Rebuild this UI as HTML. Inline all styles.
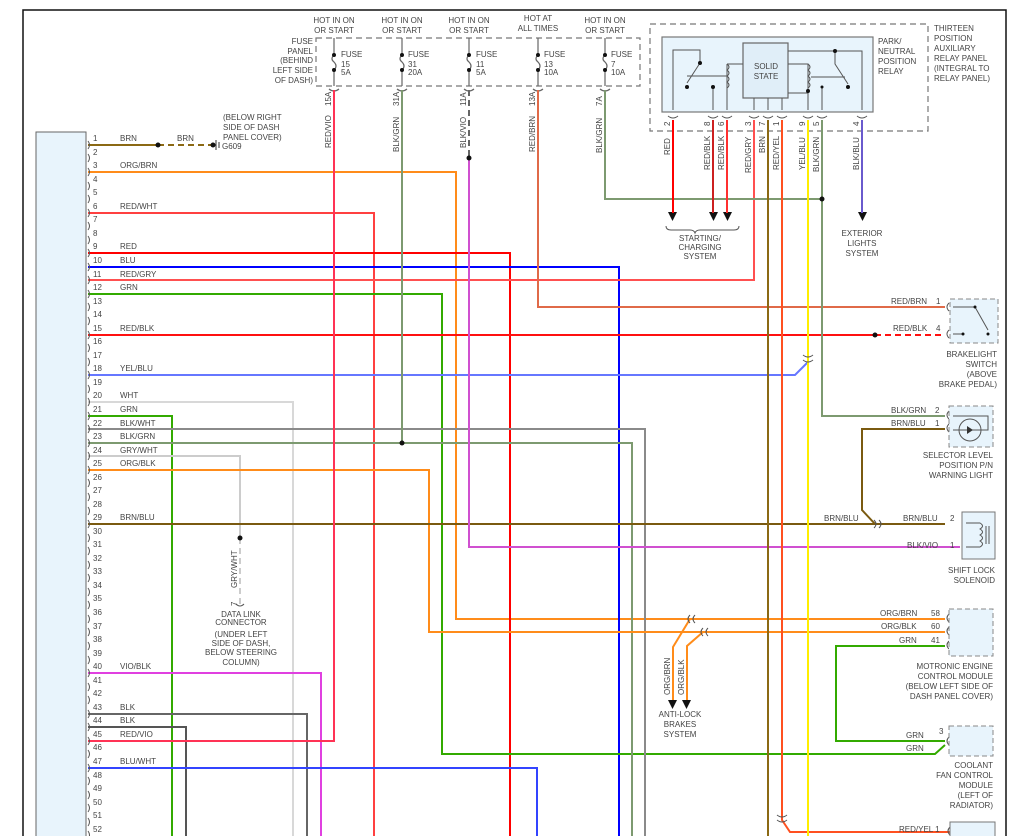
<!DOCTYPE html>
<html><head><meta charset="utf-8"><style>
body{margin:0;background:#fff;}
svg{display:block;font-family:"Liberation Sans",sans-serif;}
text{fill:#444;font-size:8px;}
.w{fill:none;stroke-width:2;}
</style></head><body>
<svg width="1016" height="836" viewBox="0 0 1016 836" xmlns="http://www.w3.org/2000/svg">
<!-- frame -->
<path d="M23,836 V10 H1006 V836" fill="none" stroke="#111" stroke-width="1.5"/>
<!-- left module -->
<rect x="36" y="132" width="50" height="710" fill="#e8f4fc" stroke="#666" stroke-width="1"/>

<!-- fuse panel -->
<rect x="316" y="38" width="324" height="48" fill="none" stroke="#777" stroke-dasharray="6,4" stroke-width="1.2"/>
<g font-size="8">
<text x="313" y="44" text-anchor="end">FUSE</text><text x="313" y="54" text-anchor="end">PANEL</text><text x="313" y="63" text-anchor="end">(BEHIND</text><text x="313" y="73" text-anchor="end">LEFT SIDE</text><text x="313" y="83" text-anchor="end">OF DASH)</text>
<text x="334" y="23" text-anchor="middle">HOT IN ON</text><text x="334" y="33" text-anchor="middle">OR START</text>
<text x="402" y="23" text-anchor="middle">HOT IN ON</text><text x="402" y="33" text-anchor="middle">OR START</text>
<text x="469" y="23" text-anchor="middle">HOT IN ON</text><text x="469" y="33" text-anchor="middle">OR START</text>
<text x="538" y="21" text-anchor="middle">HOT AT</text><text x="538" y="31" text-anchor="middle">ALL TIMES</text>
<text x="605" y="23" text-anchor="middle">HOT IN ON</text><text x="605" y="33" text-anchor="middle">OR START</text>
</g>
<g stroke="#666" stroke-width="1.2" fill="none">
<path d="M334,38V55 M334,70V86 M334,55 q-4,4 0,7 q4,4 0,8"/>
<path d="M402,38V55 M402,70V86 M402,55 q-4,4 0,7 q4,4 0,8"/>
<path d="M469,38V55 M469,70V86 M469,55 q-4,4 0,7 q4,4 0,8"/>
<path d="M538,38V55 M538,70V86 M538,55 q-4,4 0,7 q4,4 0,8"/>
<path d="M605,38V55 M605,70V86 M605,55 q-4,4 0,7 q4,4 0,8"/>
<path d="M329,89 q5,4 10,0 M397,89 q5,4 10,0 M464,89 q5,4 10,0 M533,89 q5,4 10,0 M600,89 q5,4 10,0"/>
</g>
<g fill="#111"><circle cx="334" cy="55" r="2"/><circle cx="334" cy="70" r="2"/><circle cx="402" cy="55" r="2"/><circle cx="402" cy="70" r="2"/><circle cx="469" cy="55" r="2"/><circle cx="469" cy="70" r="2"/><circle cx="538" cy="55" r="2"/><circle cx="538" cy="70" r="2"/><circle cx="605" cy="55" r="2"/><circle cx="605" cy="70" r="2"/></g>
<g font-size="8">
<text x="341" y="57">FUSE</text><text x="341" y="67">15</text><text x="341" y="75">5A</text>
<text x="408" y="57">FUSE</text><text x="408" y="67">31</text><text x="408" y="75">20A</text>
<text x="476" y="57">FUSE</text><text x="476" y="67">11</text><text x="476" y="75">5A</text>
<text x="544" y="57">FUSE</text><text x="544" y="67">13</text><text x="544" y="75">10A</text>
<text x="611" y="57">FUSE</text><text x="611" y="67">7</text><text x="611" y="75">10A</text>
</g>
<g font-size="8">
<text transform="translate(331,106) rotate(-90)">15A</text><text transform="translate(331,148) rotate(-90)">RED/VIO</text>
<text transform="translate(399,106) rotate(-90)">31A</text><text transform="translate(399,152) rotate(-90)">BLK/GRN</text>
<text transform="translate(466,106) rotate(-90)">11A</text><text transform="translate(466,148) rotate(-90)">BLK/VIO</text>
<text transform="translate(535,106) rotate(-90)">13A</text><text transform="translate(535,152) rotate(-90)">RED/BRN</text>
<text transform="translate(602,106) rotate(-90)">7A</text><text transform="translate(602,153) rotate(-90)">BLK/GRN</text>
</g>

<!-- relay -->
<rect x="650" y="24" width="278" height="107" fill="none" stroke="#777" stroke-dasharray="6,4" stroke-width="1.2"/>
<rect x="662" y="37" width="211" height="75" fill="#e8f4fc" stroke="#777" stroke-width="1.2"/>
<rect x="743" y="43" width="45" height="55" fill="#e0eef8" stroke="#666" stroke-width="1.2"/>
<text x="766" y="69" text-anchor="middle">SOLID</text><text x="766" y="79" text-anchor="middle">STATE</text>
<g stroke="#555" stroke-width="1" fill="none">
<path d="M673,110V50H700V63 M700,63 L687,83 M687,76H727 M727,64H743 M727,64V88 M727,64 q4,3 0,6 q4,3 0,6 q4,3 0,6 q4,3 0,6 M713,87V110 M727,88V110 M754,98V110 M768,98V110 M782,98V110"/>
<path d="M788,51H862V110 M835,51V64 L848,84 M811,77H845 M788,64H808 V93 M808,64 q4,3 0,6 q4,3 0,6 q4,3 0,6 q4,3 0,6 M788,93H808 V110 M822,87V110"/>
</g>
<g fill="#111"><circle cx="700" cy="63" r="2"/><circle cx="687" cy="87" r="2"/><circle cx="713" cy="87" r="2"/><circle cx="835" cy="51" r="2"/><circle cx="848" cy="87" r="2"/><circle cx="822" cy="87" r="1.5"/><circle cx="808" cy="91" r="2"/></g>
<g font-size="8">
<text x="878" y="44">PARK/</text><text x="878" y="54">NEUTRAL</text><text x="878" y="64">POSITION</text><text x="878" y="74">RELAY</text>
<text x="934" y="31">THIRTEEN</text><text x="934" y="41">POSITION</text><text x="934" y="51">AUXILIARY</text><text x="934" y="61">RELAY PANEL</text><text x="934" y="71">(INTEGRAL TO</text><text x="934" y="81">RELAY PANEL)</text>
</g>
<g font-size="7">
<text transform="translate(670,126) rotate(-90)">2</text><text transform="translate(710,126) rotate(-90)">8</text><text transform="translate(724,126) rotate(-90)">6</text><text transform="translate(751,126) rotate(-90)">3</text><text transform="translate(765,126) rotate(-90)">7</text><text transform="translate(779,126) rotate(-90)">1</text><text transform="translate(805,126) rotate(-90)">9</text><text transform="translate(819,126) rotate(-90)">5</text><text transform="translate(859,126) rotate(-90)">4</text>
</g>
<g font-size="8">
<text transform="translate(670,155) rotate(-90)">RED</text>
<text transform="translate(710,170) rotate(-90)">RED/BLK</text><text transform="translate(724,170) rotate(-90)">RED/BLK</text>
<text transform="translate(751,173) rotate(-90)">RED/GRY</text><text transform="translate(765,153) rotate(-90)">BRN</text><text transform="translate(779,170) rotate(-90)">RED/YEL</text>
<text transform="translate(805,170) rotate(-90)">YEL/BLU</text><text transform="translate(819,172) rotate(-90)">BLK/GRN</text><text transform="translate(859,170) rotate(-90)">BLK/BLU</text>
</g>
<g stroke="#555" fill="none" stroke-width="1"><path d="M668,116 q5,4 10,0 M708,116 q5,4 10,0 M722,116 q5,4 10,0 M749,116 q5,4 10,0 M763,116 q5,4 10,0 M777,116 q5,4 10,0 M803,116 q5,4 10,0 M817,116 q5,4 10,0 M857,116 q5,4 10,0"/>
<path d="M666,226 q0,4 5,4 H690 q4,0 5,3 q1,-3 5,-3 H734 q5,0 5,-4"/></g>
<g fill="#111"><path d="M668,212h9l-4.5,9z M709,212h9l-4.5,9z M723,212h9l-4.5,9z M858,212h9l-4.5,9z"/></g>
<g font-size="8" text-anchor="middle"><text x="700" y="241">STARTING/</text><text x="700" y="250">CHARGING</text><text x="700" y="259">SYSTEM</text>
<text x="862" y="236">EXTERIOR</text><text x="862" y="246">LIGHTS</text><text x="862" y="256">SYSTEM</text></g>

<!-- wires -->
<g class="w">
<path d="M88,145H158" stroke="#8b6914"/>
<path d="M158,145H213" stroke="#8b6914" stroke-dasharray="6,4"/>
<path d="M88,172H456V619H945" stroke="#ff8c1a"/>
<path d="M88,213H374V836" stroke="#ff4040"/>
<path d="M88,253H510V836" stroke="#ff0000"/>
<path d="M88,267H619V836" stroke="#0000ff"/>
<path d="M88,280H754V120" stroke="#ff5050"/>
<path d="M88,294H442V754H935L945,745" stroke="#33aa00"/>
<path d="M88,335H875" stroke="#ff1010"/>
<path d="M875,335H945" stroke="#ff1010" stroke-dasharray="6,4"/>
<path d="M88,375H795L808,362" stroke="#6677ff"/>
<path d="M88,402H293V836" stroke="#d8d8d8"/>
<path d="M88,416H172V836" stroke="#33aa00"/>
<path d="M88,429H645V836" stroke="#8a8a8a"/>
<path d="M88,443H632V836" stroke="#7d9a70"/>
<path d="M88,456H240V538" stroke="#cccccc"/>
<path d="M240,538V606" stroke="#aaa" stroke-dasharray="6,4" stroke-width="1.2"/>
<path d="M88,470H429V632H945" stroke="#ff8c1a"/>
<path d="M88,524H945" stroke="#7a5a10"/>
<path d="M88,673H321V836" stroke="#e040e0"/>
<path d="M88,714H307V836" stroke="#666"/>
<path d="M88,727H186V836" stroke="#555"/>
<path d="M88,741H334V90" stroke="#ff3355"/>
<path d="M88,768H537V836" stroke="#3344ff"/>
<path d="M402,90V443" stroke="#7d9a70"/>
<path d="M469,90V158" stroke="#666" stroke-dasharray="6,4"/>
<path d="M469,158V547H960" stroke="#d050d0"/>
<path d="M538,90V307H945" stroke="#e06a48"/>
<path d="M605,90V199H822" stroke="#7d9a70"/>
<path d="M673,120V213" stroke="#ff0000"/>
<path d="M713,120V213" stroke="#cc2020"/>
<path d="M727,120V213" stroke="#ff3030"/>
<path d="M768,120V836" stroke="#8b6914"/>
<path d="M782,120V820L790,832H990" stroke="#ff5020"/>
<path d="M808,120V836" stroke="#ffee00"/>
<path d="M822,120V416H945" stroke="#7d9a70"/>
<path d="M862,120V213" stroke="#6a5acd"/>
<path d="M945,429H862V510L875,524" stroke="#7a5a10"/>
<path d="M690,619L673,647V700" stroke="#ff8c1a"/>
<path d="M703,632L687,646V700" stroke="#ff8c1a"/>
<path d="M945,646H836V741H945" stroke="#33aa00"/>
</g>
<g fill="#111"><circle cx="158" cy="145" r="2.5"/><circle cx="213" cy="145" r="2.5"/><circle cx="469" cy="158" r="2.5"/><circle cx="822" cy="199" r="2.5"/><circle cx="875" cy="335" r="2.5"/><circle cx="402" cy="443" r="2.5"/><circle cx="240" cy="538" r="2.5"/>
<path d="M668,700h9l-4.5,9z M682,700h9l-4.5,9z"/></g>
<path d="M216,140V150 M219,142V148" stroke="#333" stroke-width="1"/>
<g font-size="8"><text x="177" y="141">BRN</text><text x="222" y="149">G609</text>
<text x="223" y="120">(BELOW RIGHT</text><text x="223" y="130">SIDE OF DASH</text><text x="223" y="140">PANEL COVER)</text></g>

<!-- connector marks on right -->
<g stroke="#555" fill="none" stroke-width="1">
<path d="M949,303 q-4,4 0,8 M949,330 q-4,4 0,8 M949,411 q-4,4 0,8 M949,424 q-4,4 0,8 M964,519 q-4,4 0,8 M964,542 q-4,4 0,8 M949,614 q-4,4 0,8 M949,627 q-4,4 0,8 M949,641 q-4,4 0,8 M949,737 q-4,4 0,8 M950,827 q-4,4 0,8"/>
<path d="M874,520 q4,4 0,8 M879,520 q4,4 0,8 M690,615 q-4,4 0,8 M695,615 q-4,4 0,8 M703,628 q-4,4 0,8 M708,628 q-4,4 0,8 M803,355 q5,4 10,0 M803,360 q5,4 10,0 M777,815 q5,4 10,0 M777,820 q5,4 10,0"/>
<path d="M236,604 q4,4 8,0"/>
</g>
<!-- right components -->
<rect x="950" y="299" width="48" height="44" fill="#e8f4fc" stroke="#888" stroke-dasharray="5,3"/>
<path d="M953,307H975L988,330 M953,334H963" stroke="#555" fill="none"/>
<circle cx="975" cy="307" r="1.5" fill="#111"/><circle cx="988" cy="334" r="1.5" fill="#111"/><circle cx="963" cy="334" r="1.5" fill="#111"/>
<rect x="949" y="406" width="44" height="41" fill="#e8f4fc" stroke="#888" stroke-dasharray="5,3"/>
<path d="M953,416H988V430H953" stroke="#555" fill="none"/><circle cx="970" cy="430" r="11" fill="none" stroke="#555"/>
<path d="M967,426l6,4l-6,4z" fill="#333"/>
<rect x="962" y="512" width="33" height="47" fill="#e8f4fc" stroke="#777"/>
<path d="M966,523H980 q5,3 0,6 q5,3 0,6 q5,3 0,6 q5,3 0,6 H966 M986,526V544 M989,526V544" stroke="#555" fill="none"/>
<rect x="949" y="609" width="44" height="47" fill="#e8f4fc" stroke="#888" stroke-dasharray="5,3"/>
<rect x="949" y="726" width="44" height="30" fill="#e8f4fc" stroke="#888" stroke-dasharray="5,3"/>
<rect x="950" y="822" width="45" height="20" fill="#e8f4fc" stroke="#777"/>

<g font-size="8">
<text x="891" y="304">RED/BRN</text><text x="936" y="304">1</text>
<text x="893" y="331">RED/BLK</text><text x="936" y="331">4</text>
<text x="997" y="357" text-anchor="end">BRAKELIGHT</text><text x="997" y="367" text-anchor="end">SWITCH</text><text x="997" y="377" text-anchor="end">(ABOVE</text><text x="997" y="387" text-anchor="end">BRAKE PEDAL)</text>
<text x="891" y="413">BLK/GRN</text><text x="935" y="413">2</text>
<text x="891" y="426">BRN/BLU</text><text x="935" y="426">1</text>
<text x="993" y="458" text-anchor="end">SELECTOR LEVEL</text><text x="993" y="468" text-anchor="end">POSITION P/N</text><text x="993" y="478" text-anchor="end">WARNING LIGHT</text>
<text x="824" y="521">BRN/BLU</text><text x="903" y="521">BRN/BLU</text><text x="950" y="521">2</text>
<text x="907" y="548">BLK/VIO</text><text x="950" y="548">1</text>
<text x="995" y="573" text-anchor="end">SHIFT LOCK</text><text x="995" y="583" text-anchor="end">SOLENOID</text>
<text x="880" y="616">ORG/BRN</text><text x="931" y="616">58</text>
<text x="881" y="629">ORG/BLK</text><text x="931" y="629">60</text>
<text x="899" y="643">GRN</text><text x="931" y="643">41</text>
<text x="993" y="669" text-anchor="end">MOTRONIC ENGINE</text><text x="993" y="679" text-anchor="end">CONTROL MODULE</text><text x="993" y="689" text-anchor="end">(BELOW LEFT SIDE OF</text><text x="993" y="699" text-anchor="end">DASH PANEL COVER)</text>
<text x="906" y="738">GRN</text><text x="939" y="734">3</text>
<text x="906" y="751">GRN</text>
<text x="993" y="768" text-anchor="end">COOLANT</text><text x="993" y="778" text-anchor="end">FAN CONTROL</text><text x="993" y="788" text-anchor="end">MODULE</text><text x="993" y="798" text-anchor="end">(LEFT OF</text><text x="993" y="808" text-anchor="end">RADIATOR)</text>
<text x="899" y="832">RED/YEL 1</text>
<text transform="translate(670,695) rotate(-90)">ORG/BRN</text><text transform="translate(684,695) rotate(-90)">ORG/BLK</text>
<text x="680" y="717" text-anchor="middle">ANTI-LOCK</text><text x="680" y="727" text-anchor="middle">BRAKES</text><text x="680" y="737" text-anchor="middle">SYSTEM</text>
<text transform="translate(237,588) rotate(-90)">GRY/WHT</text><text transform="translate(237,606) rotate(-90)">7</text>
<text x="241" y="617" text-anchor="middle">DATA LINK</text><text x="241" y="625" text-anchor="middle">CONNECTOR</text><text x="241" y="637" text-anchor="middle">(UNDER LEFT</text><text x="241" y="646" text-anchor="middle">SIDE OF DASH,</text><text x="241" y="655" text-anchor="middle">BELOW STEERING</text><text x="241" y="665" text-anchor="middle">COLUMN)</text>
</g>

<!-- pin connector marks -->
<g stroke="#555" fill="none" stroke-width="1">
<path d="M88,141q3,4 0,8M88,154q3,4 0,8M88,168q3,4 0,8M88,182q3,4 0,8M88,195q3,4 0,8M88,209q3,4 0,8M88,222q3,4 0,8M88,236q3,4 0,8M88,249q3,4 0,8M88,263q3,4 0,8M88,276q3,4 0,8M88,290q3,4 0,8M88,303q3,4 0,8M88,317q3,4 0,8M88,331q3,4 0,8M88,344q3,4 0,8M88,358q3,4 0,8M88,371q3,4 0,8M88,385q3,4 0,8M88,398q3,4 0,8M88,412q3,4 0,8M88,425q3,4 0,8M88,439q3,4 0,8M88,452q3,4 0,8M88,466q3,4 0,8M88,479q3,4 0,8M88,493q3,4 0,8M88,507q3,4 0,8M88,520q3,4 0,8M88,534q3,4 0,8M88,547q3,4 0,8M88,561q3,4 0,8M88,574q3,4 0,8M88,588q3,4 0,8M88,601q3,4 0,8M88,615q3,4 0,8M88,628q3,4 0,8M88,642q3,4 0,8M88,656q3,4 0,8M88,669q3,4 0,8M88,683q3,4 0,8M88,696q3,4 0,8M88,710q3,4 0,8M88,723q3,4 0,8M88,737q3,4 0,8M88,750q3,4 0,8M88,764q3,4 0,8M88,777q3,4 0,8M88,791q3,4 0,8M88,804q3,4 0,8M88,818q3,4 0,8M88,831q3,4 0,8"/>
</g>
<g font-size="8">
<text x="93" y="141">1</text><text x="93" y="155">2</text><text x="93" y="168">3</text><text x="93" y="182">4</text><text x="93" y="195">5</text><text x="93" y="209">6</text><text x="93" y="222">7</text><text x="93" y="236">8</text><text x="93" y="249">9</text><text x="93" y="263">10</text><text x="93" y="277">11</text><text x="93" y="290">12</text><text x="93" y="304">13</text><text x="93" y="317">14</text><text x="93" y="331">15</text><text x="93" y="344">16</text><text x="93" y="358">17</text><text x="93" y="371">18</text><text x="93" y="385">19</text><text x="93" y="398">20</text><text x="93" y="412">21</text><text x="93" y="426">22</text><text x="93" y="439">23</text><text x="93" y="453">24</text><text x="93" y="466">25</text><text x="93" y="480">26</text><text x="93" y="493">27</text><text x="93" y="507">28</text><text x="93" y="520">29</text><text x="93" y="534">30</text><text x="93" y="547">31</text><text x="93" y="561">32</text><text x="93" y="574">33</text><text x="93" y="588">34</text><text x="93" y="601">35</text><text x="93" y="615">36</text><text x="93" y="629">37</text><text x="93" y="642">38</text><text x="93" y="656">39</text><text x="93" y="669">40</text><text x="93" y="683">41</text><text x="93" y="696">42</text><text x="93" y="710">43</text><text x="93" y="723">44</text><text x="93" y="737">45</text><text x="93" y="750">46</text><text x="93" y="764">47</text><text x="93" y="778">48</text><text x="93" y="791">49</text><text x="93" y="805">50</text><text x="93" y="818">51</text><text x="93" y="832">52</text>
<text x="120" y="141">BRN</text><text x="120" y="168">ORG/BRN</text><text x="120" y="209">RED/WHT</text><text x="120" y="249">RED</text><text x="120" y="263">BLU</text><text x="120" y="277">RED/GRY</text><text x="120" y="290">GRN</text><text x="120" y="331">RED/BLK</text><text x="120" y="371">YEL/BLU</text><text x="120" y="398">WHT</text><text x="120" y="412">GRN</text><text x="120" y="426">BLK/WHT</text><text x="120" y="439">BLK/GRN</text><text x="120" y="453">GRY/WHT</text><text x="120" y="466">ORG/BLK</text><text x="120" y="520">BRN/BLU</text><text x="120" y="669">VIO/BLK</text><text x="120" y="710">BLK</text><text x="120" y="723">BLK</text><text x="120" y="737">RED/VIO</text><text x="120" y="764">BLU/WHT</text>
</g>
</svg>
</body></html>
